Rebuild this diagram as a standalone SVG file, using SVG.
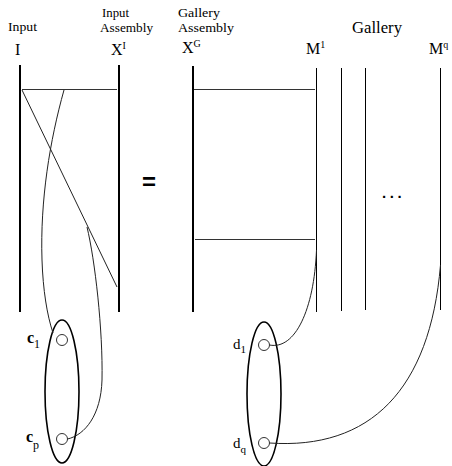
<svg xmlns="http://www.w3.org/2000/svg" width="452" height="466" viewBox="0 0 452 466">
<style>
.v{stroke:#000;stroke-width:2;fill:none}
.g{stroke:#000;stroke-width:1;fill:none}
.h{stroke:#333;stroke-width:1;fill:none}
.c{stroke:#222;stroke-width:1;fill:none}
.e{stroke:#000;stroke-width:1.6;fill:none}
.o{stroke:#333;stroke-width:1;fill:#fff}
text{font-family:'Liberation Serif','DejaVu Serif',serif}
.sans{font-family:'Liberation Sans','DejaVu Sans',sans-serif}
</style>
<rect width="452" height="466" fill="#fff"/>
<g id="labels" fill="#000">
<text x="8" y="31" font-size="12" textLength="29" lengthAdjust="spacingAndGlyphs">Input</text>
<text x="102" y="17" font-size="12" textLength="27" lengthAdjust="spacingAndGlyphs">Input</text>
<text x="100" y="32" font-size="12" textLength="53" lengthAdjust="spacingAndGlyphs">Assembly</text>
<text x="178" y="17" font-size="12" textLength="42" lengthAdjust="spacingAndGlyphs">Gallery</text>
<text x="178" y="32" font-size="12" textLength="56" lengthAdjust="spacingAndGlyphs">Assembly</text>
<text x="352" y="33" font-size="16" textLength="50" lengthAdjust="spacingAndGlyphs">Gallery</text>
<text x="15" y="55" font-size="16">I</text>
<text x="111" y="55" font-size="16">X<tspan font-size="10" dy="-6">I</tspan></text>
<text x="182" y="53" font-size="16">X<tspan font-size="10" dy="-6">G</tspan></text>
<text x="306" y="54" font-size="16">M<tspan font-size="10" dy="-6">1</tspan></text>
<text x="429" y="54" font-size="16">M<tspan font-size="10" dy="-6">q</tspan></text>
<text class="sans" x="149" y="190" text-anchor="middle" font-size="24" font-weight="bold">=</text>
<text class="sans" x="382" y="198" font-size="15" font-weight="bold" letter-spacing="3.6">...</text>
</g>
<g id="node-I"><line class="v" x1="20" y1="65" x2="20" y2="312"/></g>
<g id="node-XI"><line class="v" x1="119" y1="65" x2="119" y2="312"/></g>
<g id="node-XG"><line class="v" x1="193" y1="66" x2="193" y2="312"/></g>
<g id="node-M1"><line class="g" x1="316.5" y1="68" x2="316.5" y2="312"/></g>
<g id="node-M2"><line class="g" x1="341.5" y1="68" x2="341.5" y2="311"/></g>
<g id="node-M3"><line class="g" x1="365.5" y1="68" x2="365.5" y2="310"/></g>
<g id="node-Mq"><line class="g" x1="440.5" y1="68" x2="440.5" y2="310"/></g>
<g id="node-C">
<ellipse class="e" cx="62" cy="391.5" rx="17" ry="71.5"/>
<circle class="o" cx="62" cy="340" r="5.5"/>
<circle class="o" cx="62" cy="439" r="5.5"/>
<text x="27" y="343" font-size="16" font-weight="bold">c<tspan font-size="12" font-weight="normal" dy="5">1</tspan></text>
<text x="26" y="442" font-size="16" font-weight="bold">c<tspan font-size="12" font-weight="normal" dy="7">p</tspan></text>
</g>
<g id="node-D">
<ellipse class="e" cx="264" cy="394" rx="17" ry="72"/>
<circle class="o" cx="264" cy="345" r="5.5"/>
<circle class="o" cx="264" cy="443" r="5.5"/>
<text x="233" y="349" font-size="15">d<tspan font-size="11" dy="4">1</tspan></text>
<text x="233" y="448" font-size="15">d<tspan font-size="11" dy="5">q</tspan></text>
</g>
<g id="connectors">
<line class="h" x1="22" y1="89.5" x2="117" y2="89.5"/>
<line class="h" x1="194" y1="89.5" x2="315" y2="89.5"/>
<line class="h" x1="195" y1="239.5" x2="315" y2="239.5"/>
<line class="c" x1="22" y1="90" x2="117" y2="287"/>
<path class="c" d="M64,90 C50,140 40,200 42,260 C43,290 47,315 53,333"/>
<path class="c" d="M87,227 C95,260 103,330 102,380 C101,415 85,435 67.5,439"/>
<path class="c" d="M269.5,345 C295,350 314,310 316.5,250"/>
<path class="c" d="M269.5,443 C370,450 430,390 440.5,265"/>
</g>
</svg>
